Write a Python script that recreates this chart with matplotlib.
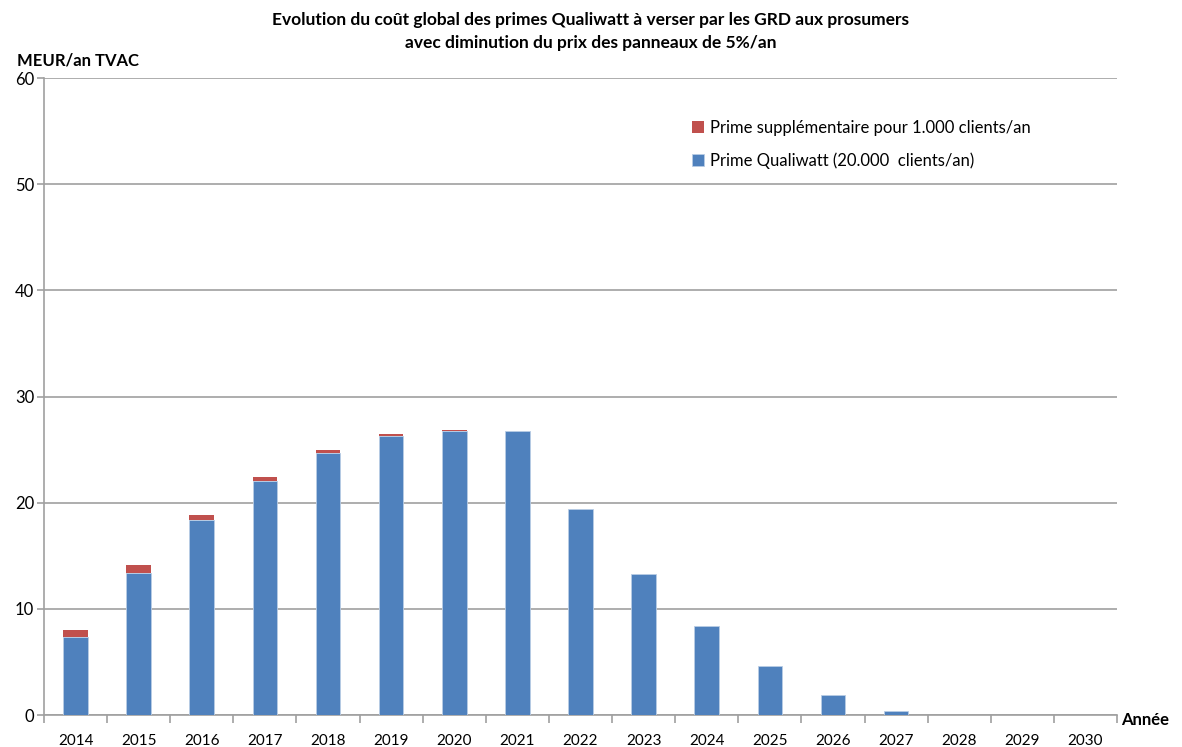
import matplotlib.pyplot as plt
import numpy as np

# =========================================================
# DATA
# =========================================================
years = ['2014', '2015', '2016', '2017', '2018', '2019', '2020', '2021', '2022',
         '2023', '2024', '2025', '2026', '2027', '2028', '2029', '2030']
prime_qualiwatt = [7.35, 13.37, 18.36, 22.03, 24.67, 26.27, 26.74, 26.74, 19.4,
                   13.3, 8.4, 4.6, 1.9, 0.4, 0, 0, 0]
prime_supp = [0.65, 0.75, 0.47, 0.4, 0.28, 0.18, 0.1, 0, 0,
              0, 0, 0, 0, 0, 0, 0, 0]

plt.rcParams['font.family'] = ['Lato', 'DejaVu Sans']

blue = '#4f81bd'
red = '#c0504d'
grid = '#a0a0a0'

# =========================================================
# FIGURE
# =========================================================
fig = plt.figure(figsize=(11.82, 7.47), dpi=100)
ax = fig.add_axes([44 / 1182, 1 - 715 / 747, (1117 - 44) / 1182, (715 - 78) / 747])

x = np.arange(len(years))
ax.bar(x, prime_qualiwatt, width=0.39, color=blue, edgecolor='#b9cde5',
       linewidth=0.6, label='Prime Qualiwatt (20.000  clients/an)', zorder=3)
ax.bar(x, prime_supp, width=0.39, bottom=prime_qualiwatt, color=red,
       linewidth=0, label='Prime supplémentaire pour 1.000 clients/an', zorder=3)

ax.set_xlim(-0.5, len(years) - 0.5)
ax.set_ylim(0, 60)
ax.set_yticks(range(0, 61, 10))
ax.yaxis.grid(True, color=grid, linewidth=1.2, zorder=0)

ax.set_xticks(x)
ax.set_xticklabels(years, fontsize=11)
ax.set_xticks(np.arange(-0.5, len(years)), minor=True)
ax.tick_params(axis='x', which='major', length=0, pad=14)
ax.tick_params(axis='x', which='minor', length=6, color=grid, width=1.2)
ax.tick_params(axis='y', length=5, color=grid, width=1.2, labelsize=12, pad=2)

for side in ['top', 'right']:
    ax.spines[side].set_visible(False)
for side in ['left', 'bottom']:
    ax.spines[side].set_color(grid)
    ax.spines[side].set_linewidth(1.2)

fig.text(0.5, 1 - 20 / 747, "Evolution du coût global des primes Qualiwatt à verser par les GRD aux prosumers",
         ha='center', va='center', fontsize=12.5, fontweight='bold')
fig.text(0.5, 1 - 43 / 747, "avec diminution du prix des panneaux de 5%/an",
         ha='center', va='center', fontsize=12.5, fontweight='bold')
fig.text(17 / 1182, 1 - 60 / 747, "MEUR/an TVAC", ha='left', va='center',
         fontsize=12, fontweight='bold')
fig.text(1121 / 1182, 1 - 720 / 747, "Année", ha='left', va='center',
         fontsize=12, fontweight='bold')

handles, labels = ax.get_legend_handles_labels()
ax.legend(handles[::-1], labels[::-1], loc='upper left',
          bbox_to_anchor=(0.59, 0.958), frameon=False, fontsize=12,
          handlelength=0.7, handleheight=0.7, handletextpad=0.4, labelspacing=1.0)

plt.savefig("out.png", dpi=100)
plt.close()
